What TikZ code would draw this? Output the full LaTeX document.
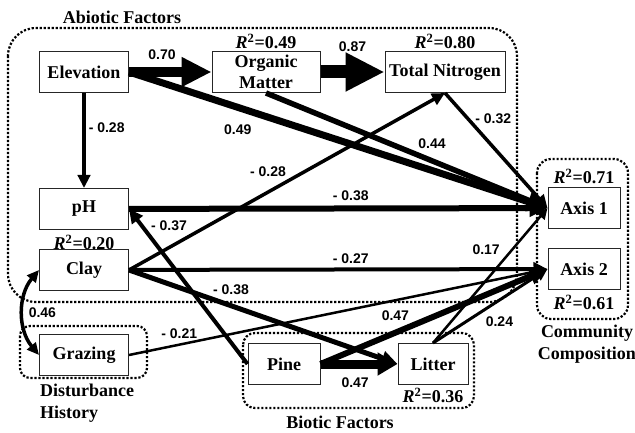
\documentclass[tikz,border=0pt]{standalone}
\usepackage{fontspec}
\setmainfont{Liberation Serif}
\setsansfont{Liberation Sans}
\usetikzlibrary{arrows.meta,positioning}
\tikzset{
    factor/.style={rectangle,draw=black!85,line width=1pt,fill=white,minimum height=41pt,minimum width=89pt,inner sep=2pt,font=\fontsize{18}{21}\selectfont\bfseries},
    group/.style={draw,line width=2.2pt,dash pattern=on 2.2pt off 1.8pt},
    grouplabel/.style={inner sep=0pt,font=\fontsize{18}{22}\selectfont\bfseries},
    rsq/.style={inner sep=0pt,font=\fontsize{18}{21}\selectfont\bfseries},
    coef/.style={inner sep=1pt,font=\sffamily\bfseries\fontsize{14}{16}\selectfont},
    effect/.style={line width=#1,-{Triangle[length=6pt 2,width=6pt 1.8]}},
    effect/.default=3pt,
    strong/.style={line width=#1,-{Triangle[length=0pt 3,width=0pt 2.8]}},
    covary/.style={line width=3.5pt,{Triangle[length=12pt,width=11pt]}-{Triangle[length=12pt,width=11pt]}}
}
\newcommand{\rsquared}[1]{\textit{R}\textsuperscript{2}=#1}

\begin{document}
\begin{tikzpicture}[x=1pt,y=-1pt]

    \useasboundingbox (0,0) rectangle (635,433);

    % groups
    \draw[group,rounded corners=28pt] (8,28) rectangle (517,302);
    \draw[group,rounded corners=14pt] (537,159) rectangle (628,319);
    \draw[group,rounded corners=10pt] (20,326) rectangle (147,378);
    \draw[group,rounded corners=12pt] (243,333) rectangle (474,408);

    \node[grouplabel] (abiotic) at (122,17) {Abiotic Factors};
    \node[grouplabel,align=center] (community) at (587,344) {Community\\Composition};
    \node[grouplabel,align=left,anchor=north west] (disturbance) at (40,384) {Disturbance\\History};
    \node[grouplabel] (biotic) at (340,422) {Biotic Factors};

    % factors
    \node[factor] (elevation) at (84,72) {Elevation};
    \node[factor,minimum width=108pt,align=center] (organic) at (266,72) {Organic\\Matter};
    \node[factor,minimum width=120pt] (nitrogen) at (445,72) {Total Nitrogen};
    \node[factor] (ph) [below=95pt of elevation] {pH};
    \node[factor] (clay) [below=19pt of ph] {Clay};
    \node[factor] (grazing) [below=43pt of clay] {Grazing};
    \node[factor,minimum width=72pt] (pine) at (284,364) {Pine};
    \node[factor,minimum width=70pt] (litter) [right=77pt of pine] {Litter};
    \node[factor,minimum width=72pt] (axis1) at (584,208) {Axis 1};
    \node[factor,minimum width=72pt] (axis2) [below=19pt of axis1] {Axis 2};

    \node[rsq] (organic r2) [above=2pt of organic] {\rsquared{0.49}};
    \node[rsq] (nitrogen r2) [above=2pt of nitrogen] {\rsquared{0.80}};
    \node[rsq] (ph r2) [below=5pt of ph] {\rsquared{0.20}};
    \node[rsq] (litter r2) [below=3pt of litter] {\rsquared{0.36}};
    \node[rsq] (axis1 r2) [above=3pt of axis1] {\rsquared{0.71}};
    \node[rsq] (axis2 r2) [below=5pt of axis2] {\rsquared{0.61}};

    % paths
    \draw[strong=10pt] (elevation) -- node[coef,above=6pt,pos=0.4] (c elev om) {0.70} (organic);
    \draw[strong=13pt] (organic) -- node[coef,above=13pt] (c om tn) {0.87} (nitrogen);
    \draw[effect=3.5pt] (elevation) -- node[coef,right=2pt,pos=0.36] (c elev ph) {- 0.28} (ph);
    \draw[effect=7pt] (elevation.east) -- node[coef,below=13pt,pos=0.26] (c elev ax1) {0.49} (axis1.west);
    \draw[effect=5.5pt] (organic.south) -- node[coef,above=8pt,pos=0.59] (c om ax1) {0.44} (axis1.west);
    \draw[effect=3.5pt] (nitrogen.south) -- node[coef,right=5pt,pos=0.22] (c tn ax1) {- 0.32} (axis1.west);
    \draw[effect=3.5pt] (clay.east) -- node[coef,above=13pt,pos=0.44] (c clay tn) {- 0.28} (nitrogen.south);
    \draw[effect=6pt] (ph) -- node[coef,above=4pt,pos=0.53] (c ph ax1) {- 0.38} (axis1);
    \draw[effect=4pt] (pine.west) -- node[coef,right=6pt,pos=0.89] (c pine ph) {- 0.37} (ph.east);
    \draw[effect=4pt] (clay) -- node[coef,above=3pt,pos=0.53] (c clay ax2) {- 0.27} (axis2);
    \draw[effect=5pt] (clay.east) -- node[coef,above right=0pt,pos=0.3] (c clay lit) {- 0.38} (litter.west);
    \draw[covary] (clay.west) to[bend right=40] node[coef,right=3pt] (c clay graz) {0.46} (grazing.west);
    \draw[effect=2.5pt] (grazing.east) -- node[coef,above=4pt,pos=0.12] (c graz ax2) {- 0.21} (axis2.west);
    \draw[line width=9pt,-{Triangle[length=20pt,width=22pt]}] (pine) -- node[coef,below=8pt,pos=0.45] (c pine lit) {0.47} (litter);
    \draw[effect=6pt] (pine.east) -- node[coef,above=8pt,pos=0.33] (c pine ax2) {0.47} (axis2.west);
    \draw[effect=2.5pt] (litter.north) -- node[coef,left=10pt,pos=0.69] (c lit ax1) {0.17} (axis1.west);
    \draw[effect=3pt] (litter.north) -- node[coef,below=14pt,pos=0.58] (c lit ax2) {0.24} (axis2.west);

\end{tikzpicture}
\end{document}
